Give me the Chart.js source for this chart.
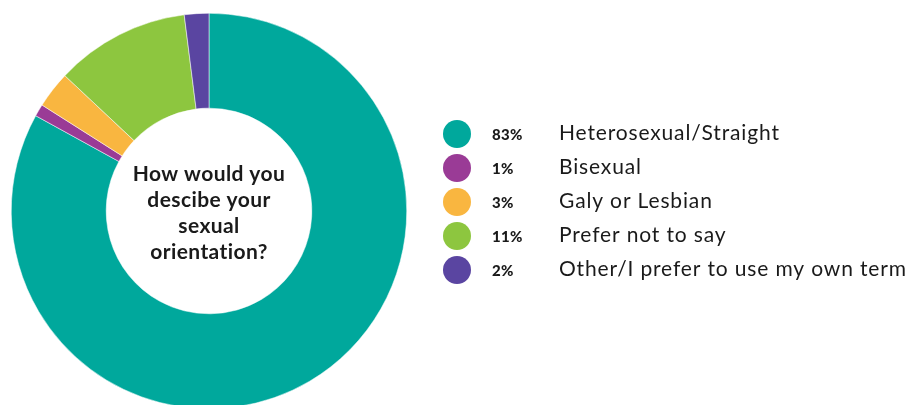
<!DOCTYPE html>
<html>
<head>
<meta charset="utf-8">
<script src="https://cdn.jsdelivr.net/npm/chart.js@4/dist/chart.umd.min.js"></script>
<style>
  html, body { margin: 0; padding: 0; background: #fff; overflow: hidden; }
  #wrap { position: relative; width: 910px; height: 422px; }
</style>
</head>
<body>
<div id="wrap"><canvas id="donut"></canvas></div>
<script>
const categorias = ['Heterosexual/Straight', 'Bisexual', 'Galy or Lesbian', 'Prefer not to say', 'Other/I prefer to use my own term'];
const porcentajes = [83, 1, 3, 11, 2];
const colores = ['#00a89c', '#9a3b96', '#f9b640', '#8dc63f', '#5a45a1'];
const preguntaLineas = ['How would you', 'descibe your', 'sexual', 'orientation?'];

const FUENTE = 'Lato, "Open Sans", sans-serif';

// texto del centro
const textoCentro = {
    id: 'textoCentro',
    afterDraw(chart) {
        const { ctx, chartArea } = chart;
        const cx = (chartArea.left + chartArea.right) / 2;
        const cy = (chartArea.top + chartArea.bottom) / 2;
        ctx.save();
        ctx.fillStyle = '#1a1a1a';
        ctx.font = 'bold 21px ' + FUENTE;
        ctx.letterSpacing = '0.4px';
        ctx.textAlign = 'center';
        ctx.textBaseline = 'middle';
        const salto = 26;
        const y0 = cy - salto * (preguntaLineas.length - 1) / 2 + 2;
        preguntaLineas.forEach((l, i) => ctx.fillText(l, cx, y0 + i * salto));
        ctx.restore();
    }
};

// leyenda con porcentajes a la derecha
const leyenda = {
    id: 'leyenda',
    afterDraw(chart) {
        const { ctx } = chart;
        const xCirculo = 457, xPct = 492, xTexto = 559;
        const yInicio = 134, salto = 34;
        ctx.save();
        ctx.textBaseline = 'middle';
        categorias.forEach((cat, i) => {
            const y = yInicio + i * salto;
            ctx.beginPath();
            ctx.arc(xCirculo, y, 14, 0, Math.PI * 2);
            ctx.fillStyle = colores[i];
            ctx.fill();
            ctx.fillStyle = '#1a1a1a';
            ctx.font = '900 15px ' + FUENTE;
            ctx.letterSpacing = '0.3px';
            ctx.fillText(porcentajes[i] + '%', xPct, y + 1);
            ctx.font = '21px ' + FUENTE;
            ctx.letterSpacing = '0.85px';
            ctx.fillText(cat, xTexto, y - 1);
        });
        ctx.restore();
    }
};

const canvas = document.getElementById('donut');
canvas.width = 910;
canvas.height = 422;

new Chart(canvas.getContext('2d'), {
    type: 'doughnut',
    data: {
        labels: categorias,
        datasets: [{
            data: porcentajes,
            backgroundColor: colores,
            borderWidth: 0.5,
            borderColor: '#ffffff'
        }]
    },
    options: {
        responsive: false,
        animation: false,
        cutout: '52%',
        layout: { padding: { left: 11, right: 503, top: 13, bottom: 13 } },
        plugins: {
            legend: { display: false },
            tooltip: { enabled: false }
        }
    },
    plugins: [textoCentro, leyenda]
});
</script>
</body>
</html>
